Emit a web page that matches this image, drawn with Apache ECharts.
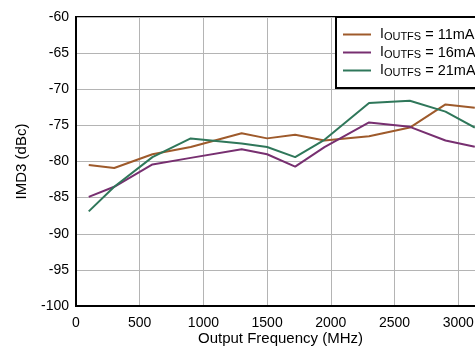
<!DOCTYPE html>
<html>
<head>
<meta charset="utf-8">
<script src="https://cdn.jsdelivr.net/npm/echarts@6/dist/echarts.min.js"></script>
<style>
  html, body { margin: 0; padding: 0; background: #fff; }
  #chart { width: 475px; height: 348px; }
</style>
</head>
<body>
<div id="chart"></div>
<script>
// output frequency (MHz)
const freqs = [100, 300, 600, 900, 1300, 1500, 1720, 1950, 2300, 2620, 2900, 3130]
// IMD3 (dBc) per full-scale current
const imd11 = [-80.5, -80.9, -79.0, -78.0, -76.1, -76.8, -76.3, -77.1, -76.5, -75.3, -72.1, -72.55]
const imd16 = [-84.9, -83.5, -80.4, -79.5, -78.3, -79.0, -80.7, -78.0, -74.6, -75.2, -77.1, -77.95]
const imd21 = [-86.9, -83.5, -79.4, -76.8, -77.5, -78.0, -79.4, -77.0, -71.9, -71.6, -73.1, -75.3]
const legendNames = ['11mA', '16mA', '21mA']
const colors = ['#9e5a2b', '#772f70', '#2f775a']
const xTicks = [0, 500, 1000, 1500, 2000, 2500, 3000]
const yTicks = [-100, -95, -90, -85, -80, -75, -70, -65, -60]

let chart = echarts.init(document.getElementById('chart'))
let font = 'Liberation Sans, Arial, sans-serif'

function pairs (ys) {
  return freqs.map((f, i) => [f, ys[i]])
}

let allData = [imd11, imd16, imd21]
let series = []
for (let i = 0; i < allData.length; i++) {
  series.push({
    name: legendNames[i],
    type: 'line',
    symbol: 'none',
    lineStyle: { color: colors[i], width: 2 },
    itemStyle: { color: colors[i] },
    data: pairs(allData[i])
  })
}

let option = {
  animation: false,
  textStyle: { fontFamily: font },
  grid: {
    left: 76,
    right: -10,
    top: 17,
    bottom: 42,
    outerBoundsMode: 'none',
    containLabel: false,
    show: true,
    borderColor: '#000',
    borderWidth: 2
  },
  legend: {
    left: 336,
    top: 17,
    orient: 'vertical',
    backgroundColor: '#fff',
    borderColor: '#000',
    borderWidth: 2,
    padding: [10, 40, 10, 6],
    itemWidth: 28,
    itemHeight: 14,
    itemGap: 3,
    itemStyle: { opacity: 0 },
    data: legendNames,
    // I with subscript OUTFS
    formatter: name => '{f|I}{s|OUTFS}{a| = ' + name + '}',
    textStyle: {
      rich: {
        f: { fontSize: 14, lineHeight: 14, fontFamily: font, color: '#000', padding: [0, 0, 0, 4] },
        a: { fontSize: 14.5, lineHeight: 14, fontFamily: font, color: '#000' },
        s: { fontSize: 11, lineHeight: 14, fontFamily: font, color: '#000', padding: [4, 0, 0, 0] }
      }
    }
  },
  xAxis: {
    type: 'value',
    min: xTicks[0],
    max: 3210,
    interval: 500,
    name: 'Output Frequency (MHz)',
    nameLocation: 'middle',
    nameGap: 25,
    nameMoveOverlap: false,
    nameTextStyle: { fontSize: 15, color: '#000', fontFamily: font },
    axisLine: { show: true, lineStyle: { color: '#000', width: 2 } },
    axisTick: { show: false },
    axisLabel: { fontSize: 14, color: '#000', margin: 10, showMaxLabel: false, formatter: v => String(v) },
    splitLine: { show: true, lineStyle: { color: '#b4b4b4', width: 1 } }
  },
  yAxis: {
    type: 'value',
    min: yTicks[0],
    max: yTicks[yTicks.length - 1],
    interval: 5,
    name: 'IMD3 (dBc)',
    nameLocation: 'middle',
    nameGap: 47,
    nameMoveOverlap: false,
    nameTextStyle: { fontSize: 15, color: '#000', fontFamily: font },
    axisLine: { show: true, lineStyle: { color: '#000', width: 2 } },
    axisTick: { show: false },
    axisLabel: { fontSize: 14, color: '#000', margin: 7, formatter: v => String(v) },
    splitLine: { show: true, lineStyle: { color: '#b4b4b4', width: 1 } }
  },
  series: series
}

chart.setOption(option)
</script>
</body>
</html>
